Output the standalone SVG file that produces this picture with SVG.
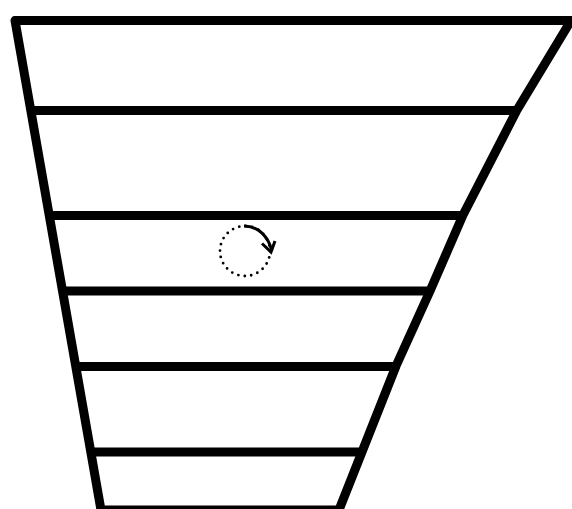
<svg xmlns="http://www.w3.org/2000/svg" width="572" height="509" viewBox="0 0 572 509">
<style>
.s{fill:none;stroke:#000;stroke-width:9;stroke-linejoin:round}
</style>
<rect width="572" height="509" fill="#fff"/>
<g id="outline"><path class="s" d="M15 20.500H571L517 110L463 215L430 291L396 366L339 510H101L15 20.500Z"/></g>
<g id="bands">
<path class="s" d="M32 110.500H517"/>
<path class="s" d="M51 215.500H463"/>
<path class="s" d="M64 291H430"/>
<path class="s" d="M78 366.500H396"/>
<path class="s" d="M93 452H362"/>
</g>
<g id="rotation">
<circle cx="245" cy="251" r="25" fill="none" stroke="#000" stroke-width="2.800" stroke-linecap="round" stroke-dasharray="0 6.540" />
<path d="M244 226C258 226 268 236 272 251" fill="none" stroke="#000" stroke-width="3"/>
<path d="M262 243.500L271 252L275 241" fill="none" stroke="#000" stroke-width="3"/>
</g>
</svg>
